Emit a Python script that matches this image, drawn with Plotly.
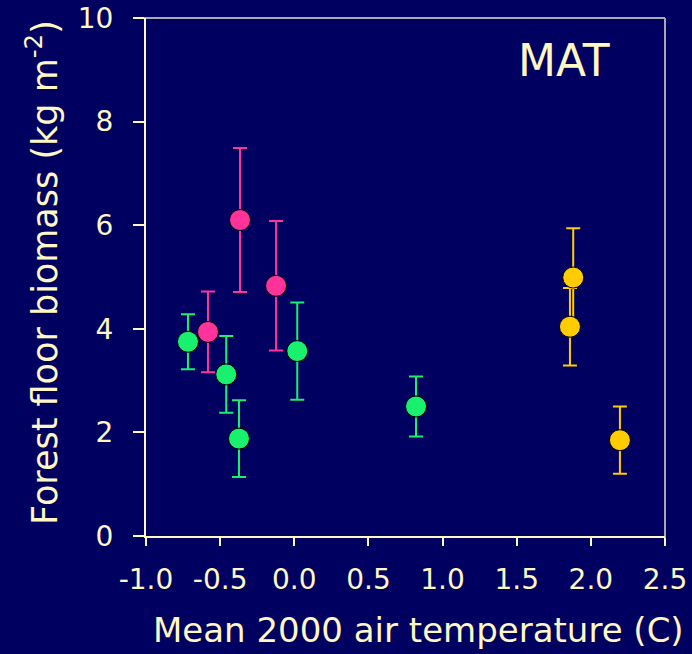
import plotly.graph_objects as go

# Forest floor biomass vs mean 2000 air temperature, three site groups
green_x = [-0.717, -0.459, -0.373, 0.020, 0.821]
green_y = [3.75, 3.12, 1.88, 3.57, 2.50]
green_err = [0.53, 0.74, 0.74, 0.94, 0.58]

pink_x = [-0.582, -0.366, -0.123]
pink_y = [3.94, 6.10, 4.83]
pink_err = [0.78, 1.39, 1.25]

yellow_x = [1.881, 1.859, 2.196]
yellow_y = [4.99, 4.04, 1.85]
yellow_err = [0.95, 0.75, 0.65]

x_ticks = [-1.0, -0.5, 0.0, 0.5, 1.0, 1.5, 2.0, 2.5]
y_ticks = [0, 2, 4, 6, 8, 10]

BG = "#000060"
CREAM = "#FFF8C4"
GREY = "#A8A8B0"
FONT = "DejaVu Sans"

fig = go.Figure()

for xs, ys, es, col in [
    (green_x, green_y, green_err, "#19F06E"),
    (pink_x, pink_y, pink_err, "#FF3399"),
    (yellow_x, yellow_y, yellow_err, "#FFCC00"),
]:
    fig.add_trace(go.Scatter(
        x=xs, y=ys, mode="markers",
        marker=dict(size=21, color=col, line=dict(color="#000000", width=1)),
        error_y=dict(type="data", array=es, symmetric=True,
                     color=col, thickness=2, width=7),
        showlegend=False,
    ))

fig.update_layout(
    width=692, height=654,
    margin=dict(l=146, r=27, t=18, b=118),
    paper_bgcolor=BG, plot_bgcolor=BG,
    font=dict(family=FONT, color=CREAM),
    xaxis=dict(
        range=[-1.0, 2.5], tickvals=x_ticks,
        ticktext=[f"{v:.1f}" for v in x_ticks],
        showgrid=False, zeroline=False, automargin=False,
        showline=True, linecolor=CREAM, linewidth=2,
        ticks="outside", ticklen=8, tickwidth=2, tickcolor=CREAM,
        tickfont=dict(size=28, color=CREAM),
        ticklabelstandoff=9,
    ),
    yaxis=dict(
        range=[0, 10], tickvals=y_ticks,
        showgrid=False, zeroline=False, automargin=False,
        showline=True, linecolor=CREAM, linewidth=2,
        ticks="outside", ticklen=11, tickwidth=2, tickcolor=CREAM,
        tickfont=dict(size=28, color=CREAM),
        ticklabelstandoff=14,
    ),
    annotations=[
        dict(text="MAT", x=0.805, y=0.918, xref="paper", yref="paper",
             showarrow=False, xanchor="center", yanchor="middle",
             font=dict(size=44, color=CREAM, family=FONT)),
        dict(text="Mean 2000 air temperature (C)", x=418, y=630,
             xref="paper", yref="paper", showarrow=False,
             xanchor="center", yanchor="middle",
             font=dict(size=34, color=CREAM, family=FONT)),
        dict(text="Forest floor biomass (kg m<sup>-2</sup>)", x=42, y=273,
             xref="paper", yref="paper", showarrow=False, textangle=-90,
             xanchor="center", yanchor="middle",
             font=dict(size=35, color=CREAM, family=FONT)),
    ],
    shapes=[
        dict(type="line", xref="paper", yref="paper", x0=-0.021, x1=1, y0=1, y1=1,
             line=dict(color=GREY, width=2), layer="below"),
        dict(type="line", xref="paper", yref="paper", x0=1, x1=1, y0=-0.015, y1=1,
             line=dict(color=GREY, width=2), layer="below"),
    ],
)

# convert the two axis-title pixel positions into paper fractions
pw, ph = 692 - 146 - 27, 654 - 18 - 118
for ann in fig.layout.annotations[1:]:
    ann.x = (ann.x - 146) / pw
    ann.y = (654 - 118 - ann.y) / ph

fig.write_html("out.html")
